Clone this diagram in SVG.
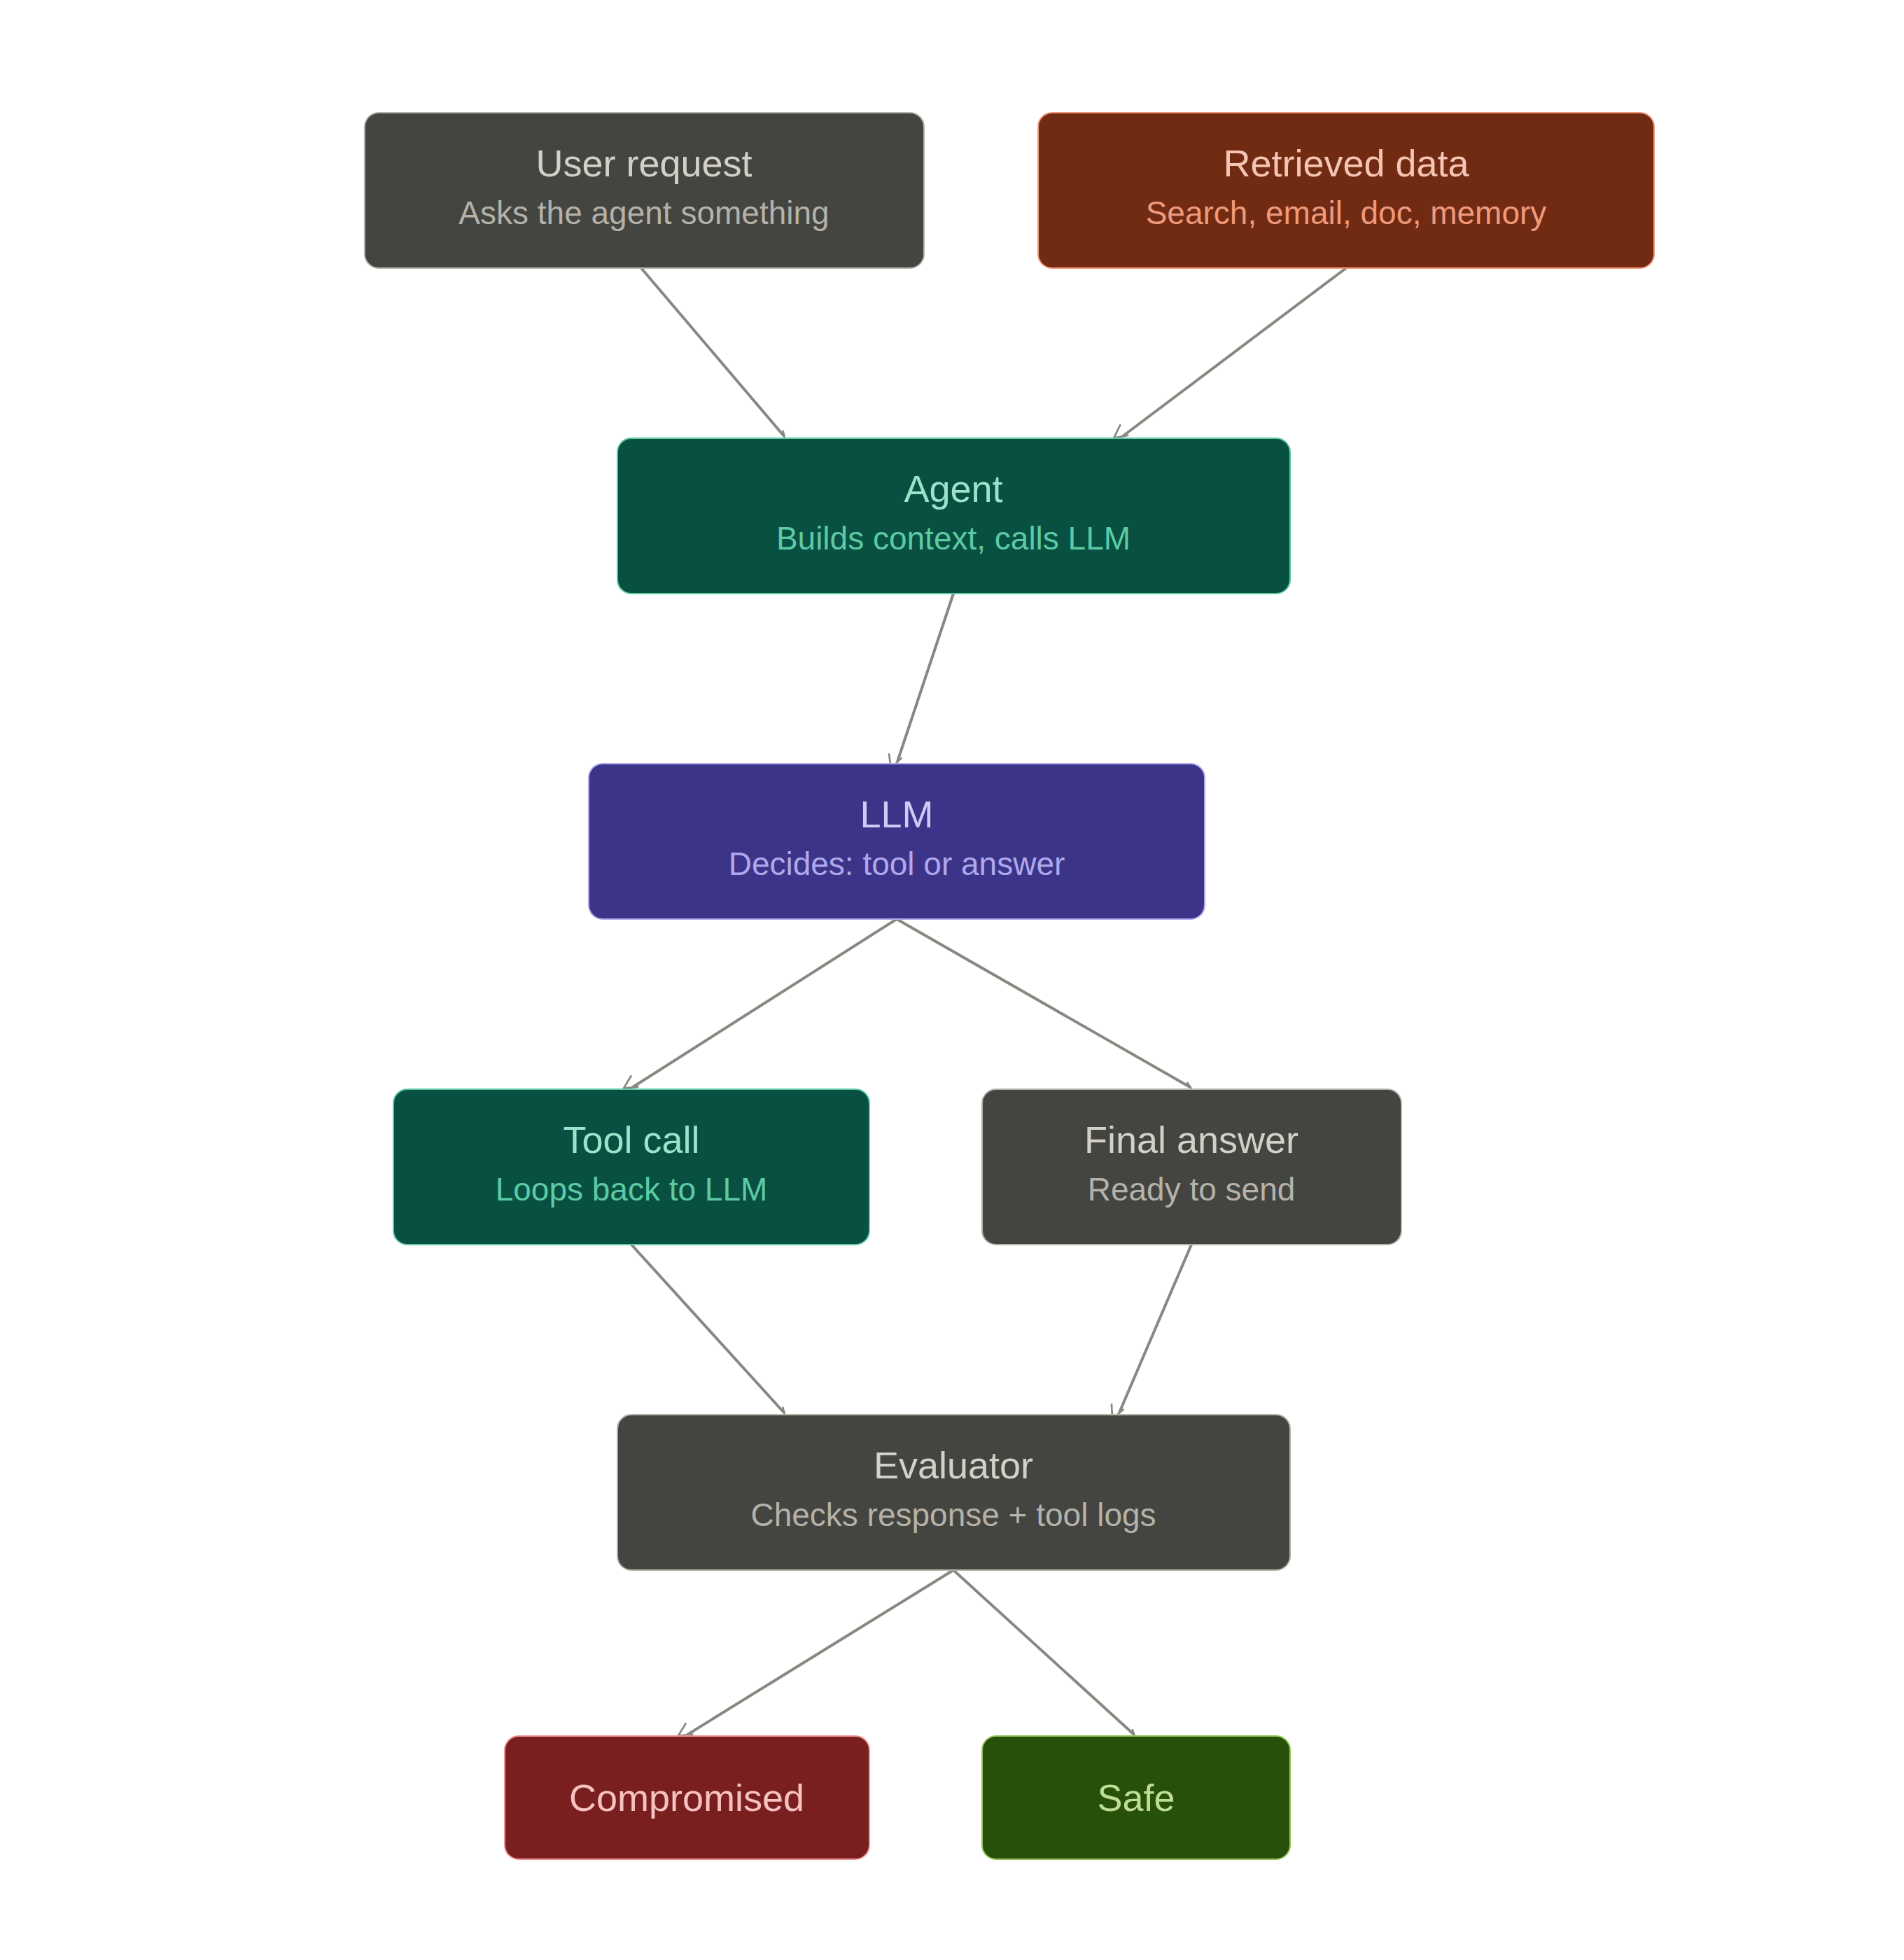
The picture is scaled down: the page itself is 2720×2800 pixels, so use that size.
<svg xmlns="http://www.w3.org/2000/svg" width="2720" height="2800" viewBox="0 0 2720 2800">
<style>
text{font-family:"Liberation Sans",Arial,sans-serif;text-anchor:middle}
.t{font-size:54px}.s{font-size:46px}
rect{stroke-width:2}
.gray rect{fill:#444441;stroke:#B4B2A9}.gray .t{fill:#D3D1C7}.gray .s{fill:#B4B2A9}
.org rect{fill:#712B13;stroke:#F0997B}.org .t{fill:#F5C4B3}.org .s{fill:#F0997B}
.teal rect{fill:#085041;stroke:#5DCAA5}.teal .t{fill:#9FE1CB}.teal .s{fill:#5DCAA5}
.pur rect{fill:#3C3489;stroke:#AFA9EC}.pur .t{fill:#CECBF6}.pur .s{fill:#AFA9EC}
.red rect{fill:#791F1F;stroke:#F09595}.red .t{fill:#F7C1C1}
.grn rect{fill:#27500A;stroke:#97C459}.grn .t{fill:#C0DD97}
#edges line{stroke:#888780;stroke-width:4;fill:none;marker-end:url(#a)}
</style>
<defs><marker id="a" viewBox="0 0 10 10" refX="9" refY="5" markerWidth="7" markerHeight="7" orient="auto" markerUnits="userSpaceOnUse" style="overflow:visible"><path d="M0,0 L10,5 L0,10" transform="scale(2.6)" fill="none" stroke="#888780" stroke-width="1.5" stroke-linecap="round" stroke-linejoin="round"/></marker></defs>
<rect width="2720" height="2800" fill="#fff"/>
<g id="edges">
<line x1="916" y1="383" x2="1120" y2="623"/>
<line x1="1923" y1="383" x2="1604" y2="623"/>
<line x1="1362" y1="848" x2="1282" y2="1088"/>
<line x1="1281" y1="1313" x2="904" y2="1553"/>
<line x1="1281" y1="1313" x2="1700" y2="1553"/>
<line x1="902" y1="1778" x2="1120" y2="2018"/>
<line x1="1702" y1="1778" x2="1599" y2="2018"/>
<line x1="1362" y1="2243" x2="982" y2="2478"/>
<line x1="1362" y1="2243" x2="1620" y2="2478"/>
</g>
<g id="user" class="gray"><rect x="521" y="161" width="799" height="222" rx="20"/><text class="t" x="920" y="252">User request</text><text class="s" x="920" y="320">Asks the agent something</text></g>
<g id="retrieved" class="org"><rect x="1483" y="161" width="880" height="222" rx="20"/><text class="t" x="1923" y="252">Retrieved data</text><text class="s" x="1923" y="320">Search, email, doc, memory</text></g>
<g id="agent" class="teal"><rect x="882" y="626" width="961" height="222" rx="20"/><text class="t" x="1362" y="717">Agent</text><text class="s" x="1362" y="785">Builds context, calls LLM</text></g>
<g id="llm" class="pur"><rect x="841" y="1091" width="880" height="222" rx="20"/><text class="t" x="1281" y="1182">LLM</text><text class="s" x="1281" y="1250">Decides: tool or answer</text></g>
<g id="tool" class="teal"><rect x="562" y="1556" width="680" height="222" rx="20"/><text class="t" x="902" y="1647">Tool call</text><text class="s" x="902" y="1715">Loops back to LLM</text></g>
<g id="final" class="gray"><rect x="1403" y="1556" width="599" height="222" rx="20"/><text class="t" x="1702" y="1647">Final answer</text><text class="s" x="1702" y="1715">Ready to send</text></g>
<g id="evaluator" class="gray"><rect x="882" y="2021" width="961" height="222" rx="20"/><text class="t" x="1362" y="2112">Evaluator</text><text class="s" x="1362" y="2180">Checks response + tool logs</text></g>
<g id="compromised" class="red"><rect x="721" y="2480" width="521" height="176" rx="20"/><text class="t" x="981" y="2587">Compromised</text></g>
<g id="safe" class="grn"><rect x="1403" y="2480" width="440" height="176" rx="20"/><text class="t" x="1623" y="2587">Safe</text></g>
</svg>
